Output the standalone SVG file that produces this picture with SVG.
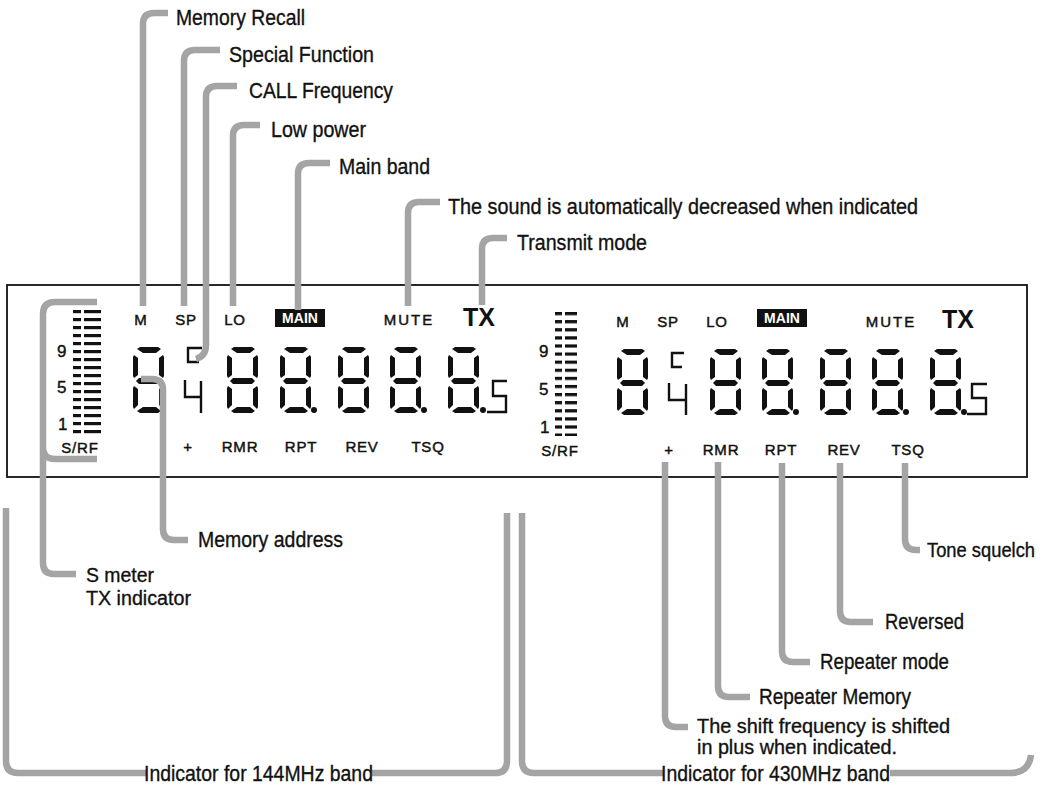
<svg xmlns="http://www.w3.org/2000/svg" width="1050" height="790" viewBox="0 0 1050 790">
<style>
.lbl{font-family:"Liberation Sans",Arial,sans-serif;font-size:22px;fill:#111;stroke:#111;stroke-width:0.35}
.sm{font-size:20px}
.xs{font-size:19.5px}
.lcd{font-family:"Liberation Sans",Arial,sans-serif;font-size:15px;fill:#111;stroke:#111;stroke-width:0.45;text-anchor:middle;letter-spacing:0.8px}
.num{font-family:"Liberation Sans",Arial,sans-serif;font-size:17px;fill:#111;stroke:#111;stroke-width:0.4}
.tx{font-family:"Liberation Sans",Arial,sans-serif;font-size:25px;font-weight:bold;fill:#111;text-anchor:middle}
.main{font-family:"Liberation Sans",Arial,sans-serif;font-size:14px;font-weight:bold;fill:#fff;text-anchor:middle}
.seg{fill:none;stroke:#111;stroke-width:2.4}
.call{fill:none;stroke:#a4a4a4;stroke-width:6.5;stroke-linecap:butt;stroke-linejoin:round}
</style>
<defs>
<g id="d8" fill="#111">
<path d="M7,0 L25,0 L28,2 L23,6 L10,6 L4,2 Z"/>
<path d="M1,8 L5,11 L5,28 L1,31 L0,29 L0,10 Z"/>
<path d="M30,8 L31,10 L31,29 L30,31 L26,28 L26,11 Z"/>
<path d="M6,31 L25,31 L28,34 L25,37 L6,37 L3,34 Z"/>
<path d="M1,39 L5,42 L5,58 L1,62 L0,60 L0,41 Z"/>
<path d="M30,39 L31,41 L31,60 L30,62 L26,58 L26,42 Z"/>
<path d="M10,60 L23,60 L28,64 L25,66 L7,66 L4,64 Z"/>
</g>
<pattern id="barsL" patternUnits="userSpaceOnUse" x="73" y="310" width="40" height="8">
<rect x="0" y="0" width="8" height="3.2" fill="#111"/>
<rect x="11" y="0" width="17" height="3.2" fill="#111"/>
</pattern>
<pattern id="barsR" patternUnits="userSpaceOnUse" x="555" y="312" width="40" height="8.1">
<rect x="0" y="0" width="7" height="3.2" fill="#111"/>
<rect x="10" y="0" width="12" height="3.2" fill="#111"/>
</pattern>
</defs>
<rect width="1050" height="790" fill="#fff"/>

<g id="lcd-panel">
<rect x="7" y="285" width="1020" height="192" fill="none" stroke="#111" stroke-width="1.8"/>
</g>

<g id="left-display">
<rect x="73" y="310" width="28" height="124" fill="url(#barsL)"/>
<text class="num" x="57" y="357">9</text>
<text class="num" x="57" y="393">5</text>
<text class="num" x="58" y="430">1</text>
<text class="lcd" x="80" y="453">S/RF</text>
<text class="lcd" x="141" y="325">M</text>
<text class="lcd" x="186" y="325">SP</text>
<text class="lcd" x="235" y="325">LO</text>
<rect x="275" y="309" width="50" height="18" fill="#111"/>
<text class="main" x="300" y="323">MAIN</text>
<text class="lcd" x="409" y="325" style="letter-spacing:2px">MUTE</text>
<text class="tx" x="479" y="326">TX</text>
<use href="#d8" x="133" y="347"/>
<path class="seg" d="M202 348 H188 V362 H199 M185 380 V397 H201 M201 381 V413"/>
<use href="#d8" x="227" y="347"/>
<use href="#d8" x="280" y="347"/>
<use href="#d8" x="338" y="347"/>
<use href="#d8" x="390" y="347"/>
<use href="#d8" x="448" y="347"/>
<circle cx="314" cy="410" r="3" fill="#111"/>
<circle cx="424" cy="410" r="3" fill="#111"/>
<circle cx="483" cy="410" r="3" fill="#111"/>
<path class="seg" d="M487 412 H506 V396 H493 V381 H507"/>
<text class="lcd" x="188" y="452">+</text>
<text class="lcd" x="240" y="452">RMR</text>
<text class="lcd" x="301" y="452">RPT</text>
<text class="lcd" x="362" y="452">REV</text>
<text class="lcd" x="428" y="452">TSQ</text>
</g>

<g id="right-display">
<rect x="555" y="312" width="22" height="124" fill="url(#barsR)"/>
<text class="num" x="539" y="357">9</text>
<text class="num" x="539" y="395">5</text>
<text class="num" x="540" y="433">1</text>
<text class="lcd" x="560" y="456">S/RF</text>
<text class="lcd" x="623" y="327">M</text>
<text class="lcd" x="668" y="327">SP</text>
<text class="lcd" x="717" y="327">LO</text>
<rect x="757" y="309" width="50" height="18" fill="#111"/>
<text class="main" x="782" y="323">MAIN</text>
<text class="lcd" x="891" y="327" style="letter-spacing:2px">MUTE</text>
<text class="tx" x="958" y="328">TX</text>
<use href="#d8" x="617" y="349"/>
<path class="seg" d="M684 353 H672 V367 H682 M669 383 V400 H686 M686 384 V415"/>
<use href="#d8" x="710" y="349"/>
<use href="#d8" x="762" y="349"/>
<use href="#d8" x="820" y="349"/>
<use href="#d8" x="872" y="349"/>
<use href="#d8" x="930" y="349"/>
<circle cx="796" cy="412" r="3" fill="#111"/>
<circle cx="906" cy="412" r="3" fill="#111"/>
<circle cx="964" cy="412" r="3" fill="#111"/>
<path class="seg" d="M967 414 H986 V398 H972 V384 H987"/>
<text class="lcd" x="669" y="455">+</text>
<text class="lcd" x="721" y="455">RMR</text>
<text class="lcd" x="781" y="455">RPT</text>
<text class="lcd" x="844" y="455">REV</text>
<text class="lcd" x="908" y="455">TSQ</text>
</g>

<g id="connectors">
<path class="call" d="M143 306 V24 Q143 13 154 13 H168"/>
<path class="call" d="M184 306 V61 Q184 50 195 50 H220"/>
<path class="call" d="M196 359 Q206 356 206 345 V97 Q206 86 217 86 H237"/>
<path class="call" d="M233 306 V136 Q233 125 244 125 H260"/>
<path class="call" d="M298 310 V174 Q298 163 309 163 H330"/>
<path class="call" d="M408 306 V213 Q408 202 419 202 H440"/>
<path class="call" d="M482 305 V249 Q482 238 493 238 H507"/>
<path class="call" d="M97 302 H55 Q43 302 43 314 V563 Q43 574 54 574 H76 M43 448 Q43 459 55 459 H97"/>
<path class="call" d="M141 379 H152 Q163 379 163 390 V529 Q163 540 174 540 H188"/>
<path class="call" d="M665 462 V716 Q665 727 676 727 H688"/>
<path class="call" d="M718 462 V686 Q718 697 729 697 H750"/>
<path class="call" d="M782 463 V651 Q782 662 793 662 H810"/>
<path class="call" d="M840 463 V611 Q840 622 851 622 H873"/>
<path class="call" d="M905 463 V539 Q905 550 916 550 H920"/>
<path class="call" d="M6 508 V761 Q6 773 18 773 H146 M372 773 H495 Q507 773 507 761 V513"/>
<path class="call" d="M522 513 V761 Q522 773 534 773 H663 M890 773 H1010 Q1029 773 1031 755"/>
</g>

<g id="labels-top">
<text class="lbl" x="176" y="25" textLength="129" lengthAdjust="spacingAndGlyphs">Memory Recall</text>
<text class="lbl" x="229" y="62" textLength="145" lengthAdjust="spacingAndGlyphs">Special Function</text>
<text class="lbl" x="249" y="98" textLength="144" lengthAdjust="spacingAndGlyphs">CALL Frequency</text>
<text class="lbl" x="271" y="137" textLength="95" lengthAdjust="spacingAndGlyphs">Low power</text>
<text class="lbl" x="339" y="174" textLength="91" lengthAdjust="spacingAndGlyphs">Main band</text>
<text class="lbl" x="448" y="214" textLength="470" lengthAdjust="spacingAndGlyphs">The sound is automatically decreased when indicated</text>
<text class="lbl" x="517" y="250" textLength="130" lengthAdjust="spacingAndGlyphs">Transmit mode</text>
</g>

<g id="labels-bottom">
<text class="lbl" x="198" y="547" textLength="145" lengthAdjust="spacingAndGlyphs">Memory address</text>
<text class="lbl sm" x="86" y="582" textLength="68" lengthAdjust="spacingAndGlyphs">S meter</text>
<text class="lbl sm" x="86" y="605" textLength="105" lengthAdjust="spacingAndGlyphs">TX indicator</text>
<text class="lbl xs" x="927" y="557" textLength="108" lengthAdjust="spacingAndGlyphs">Tone squelch</text>
<text class="lbl" x="885" y="629" textLength="79" lengthAdjust="spacingAndGlyphs">Reversed</text>
<text class="lbl" x="820" y="669" textLength="129" lengthAdjust="spacingAndGlyphs">Repeater mode</text>
<text class="lbl" x="759" y="704" textLength="152" lengthAdjust="spacingAndGlyphs">Repeater Memory</text>
<text class="lbl sm" x="697" y="733" textLength="253" lengthAdjust="spacingAndGlyphs">The shift frequency is shifted</text>
<text class="lbl sm" x="697" y="754" textLength="200" lengthAdjust="spacingAndGlyphs">in plus when indicated.</text>
<text class="lbl" x="144" y="781" textLength="229" lengthAdjust="spacingAndGlyphs">Indicator for 144MHz band</text>
<text class="lbl" x="661" y="781" textLength="229" lengthAdjust="spacingAndGlyphs">Indicator for 430MHz band</text>
</g>
</svg>
